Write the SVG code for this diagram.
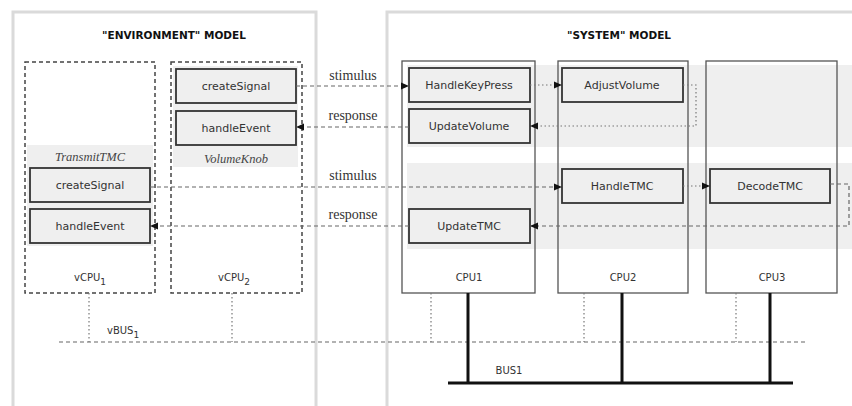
<svg xmlns="http://www.w3.org/2000/svg" width="852" height="406" viewBox="0 0 852 406">
<style>
.panel{fill:none;stroke:#dadada;stroke-width:3}
.band{fill:#efefef}
.vcpu{fill:none;stroke:#444;stroke-width:1.5;stroke-dasharray:4 3}
.cpu{fill:none;stroke:#555;stroke-width:1.3}
.node{fill:#efefef;stroke:#333;stroke-width:1.8}
.nt{font-family:"DejaVu Sans",sans-serif;font-size:11px;fill:#333;text-anchor:middle}
.title{font-family:"DejaVu Sans",sans-serif;font-size:10.5px;font-weight:bold;fill:#111;text-anchor:middle}
.lbl{font-family:"DejaVu Sans",sans-serif;font-size:10px;fill:#333;text-anchor:middle}
.sub{font-size:9px}
.ser{font-family:"Liberation Serif",serif;font-size:14px;fill:#333;text-anchor:middle}
.it{font-family:"Liberation Serif",serif;font-size:12.5px;font-style:italic;fill:#444;text-anchor:middle}
.dash{fill:none;stroke:#666;stroke-width:1.2;stroke-dasharray:4 3}
.dot{fill:none;stroke:#777;stroke-width:1.2;stroke-dasharray:1.5 2.5}
.bus{fill:none;stroke:#111;stroke-width:3}
</style>
<defs>
<marker id="ah" viewBox="0 0 8 8" refX="8" refY="4" markerWidth="8" markerHeight="8" markerUnits="userSpaceOnUse" orient="auto">
<path d="M0,0.5 L8,4 L0,7.5 Z" fill="#111"/>
</marker>
</defs>
<rect width="852" height="406" fill="#fff"/>
<g id="env-model">
<rect class="panel" x="13" y="12" width="303" height="400"/>
<text class="title" x="174" y="39">"ENVIRONMENT" MODEL</text>
</g>
<g id="sys-model">
<rect class="panel" x="387" y="12" width="470" height="400"/>
<text class="title" x="619" y="39">"SYSTEM" MODEL</text>
<rect class="band" x="407" y="65" width="445" height="82"/>
<rect class="band" x="407" y="163" width="445" height="86"/>
</g>
<g id="vCPU1">
<rect class="band" x="27" y="145" width="126" height="101"/>
<rect class="vcpu" x="25" y="62" width="130" height="231"/>
<text class="it" x="90" y="161">TransmitTMC</text>
<text class="lbl" x="90" y="281">vCPU<tspan class="sub" dy="4">1</tspan></text>
</g>
<g id="vCPU2">
<rect class="band" x="173" y="66" width="125" height="101"/>
<rect class="vcpu" x="171" y="62" width="131" height="231"/>
<text class="it" x="236" y="163">VolumeKnob</text>
<text class="lbl" x="234" y="281">vCPU<tspan class="sub" dy="4">2</tspan></text>
</g>
<g id="CPU1">
<rect class="cpu" x="402" y="61" width="133" height="232"/>
<text class="lbl" x="469" y="281">CPU1</text>
</g>
<g id="CPU2">
<rect class="cpu" x="558" y="61" width="130" height="232"/>
<text class="lbl" x="623" y="281">CPU2</text>
</g>
<g id="CPU3">
<rect class="cpu" x="706" y="61" width="131" height="232"/>
<text class="lbl" x="772" y="281">CPU3</text>
</g>
<g id="createSignal-vk"><rect class="node" x="176" y="69" width="120" height="34"/><text class="nt" x="236" y="90">createSignal</text></g>
<g id="handleEvent-vk"><rect class="node" x="176" y="111" width="120" height="34"/><text class="nt" x="236" y="132">handleEvent</text></g>
<g id="createSignal-tmc"><rect class="node" x="30" y="168" width="120" height="34"/><text class="nt" x="90" y="189">createSignal</text></g>
<g id="handleEvent-tmc"><rect class="node" x="30" y="209" width="120" height="34"/><text class="nt" x="90" y="230">handleEvent</text></g>
<g id="HandleKeyPress"><rect class="node" x="409" y="68" width="121" height="34"/><text class="nt" x="469" y="89">HandleKeyPress</text></g>
<g id="UpdateVolume"><rect class="node" x="409" y="109" width="121" height="34"/><text class="nt" x="469" y="130">UpdateVolume</text></g>
<g id="AdjustVolume"><rect class="node" x="562" y="68" width="121" height="34"/><text class="nt" x="622" y="89">AdjustVolume</text></g>
<g id="HandleTMC"><rect class="node" x="562" y="169" width="121" height="34"/><text class="nt" x="622" y="190">HandleTMC</text></g>
<g id="DecodeTMC"><rect class="node" x="710" y="169" width="120" height="34"/><text class="nt" x="770" y="190">DecodeTMC</text></g>
<g id="UpdateTMC"><rect class="node" x="409" y="209" width="121" height="34"/><text class="nt" x="469" y="230">UpdateTMC</text></g>
<g id="bus-labels">
<text class="lbl" x="107" y="334" text-anchor="start" style="text-anchor:start">vBUS<tspan class="sub" dy="4">1</tspan></text>
<text class="lbl" x="509" y="374">BUS1</text>
</g>
<g id="connectors">
<path class="dash" d="M296,86 H409" marker-end="url(#ah)"/>
<path class="dash" d="M409,127 H296" marker-end="url(#ah)"/>
<path class="dash" d="M150,187 H562" marker-end="url(#ah)"/>
<path class="dash" d="M409,226 H150" marker-end="url(#ah)"/>
<path class="dot" d="M530,85 H562" marker-end="url(#ah)"/>
<path class="dot" d="M683,85 H696 V126 H530" marker-end="url(#ah)"/>
<path class="dot" d="M683,186 H710" marker-end="url(#ah)"/>
<path class="dash" d="M830,184 H849 V226 H530" marker-end="url(#ah)"/>
<text class="ser" x="353" y="80">stimulus</text>
<text class="ser" x="353" y="120">response</text>
<text class="ser" x="353" y="180">stimulus</text>
<text class="ser" x="353" y="219">response</text>
<path class="dash" d="M59,342 H808"/>
<path class="dot" d="M89,293 V342 M232,293 V342 M431,293 V342 M584,293 V342 M736,293 V342"/>
<path class="bus" d="M448,383 H793 M468,293 V383 M622,293 V383 M770,293 V383"/>
</g>
</svg>
